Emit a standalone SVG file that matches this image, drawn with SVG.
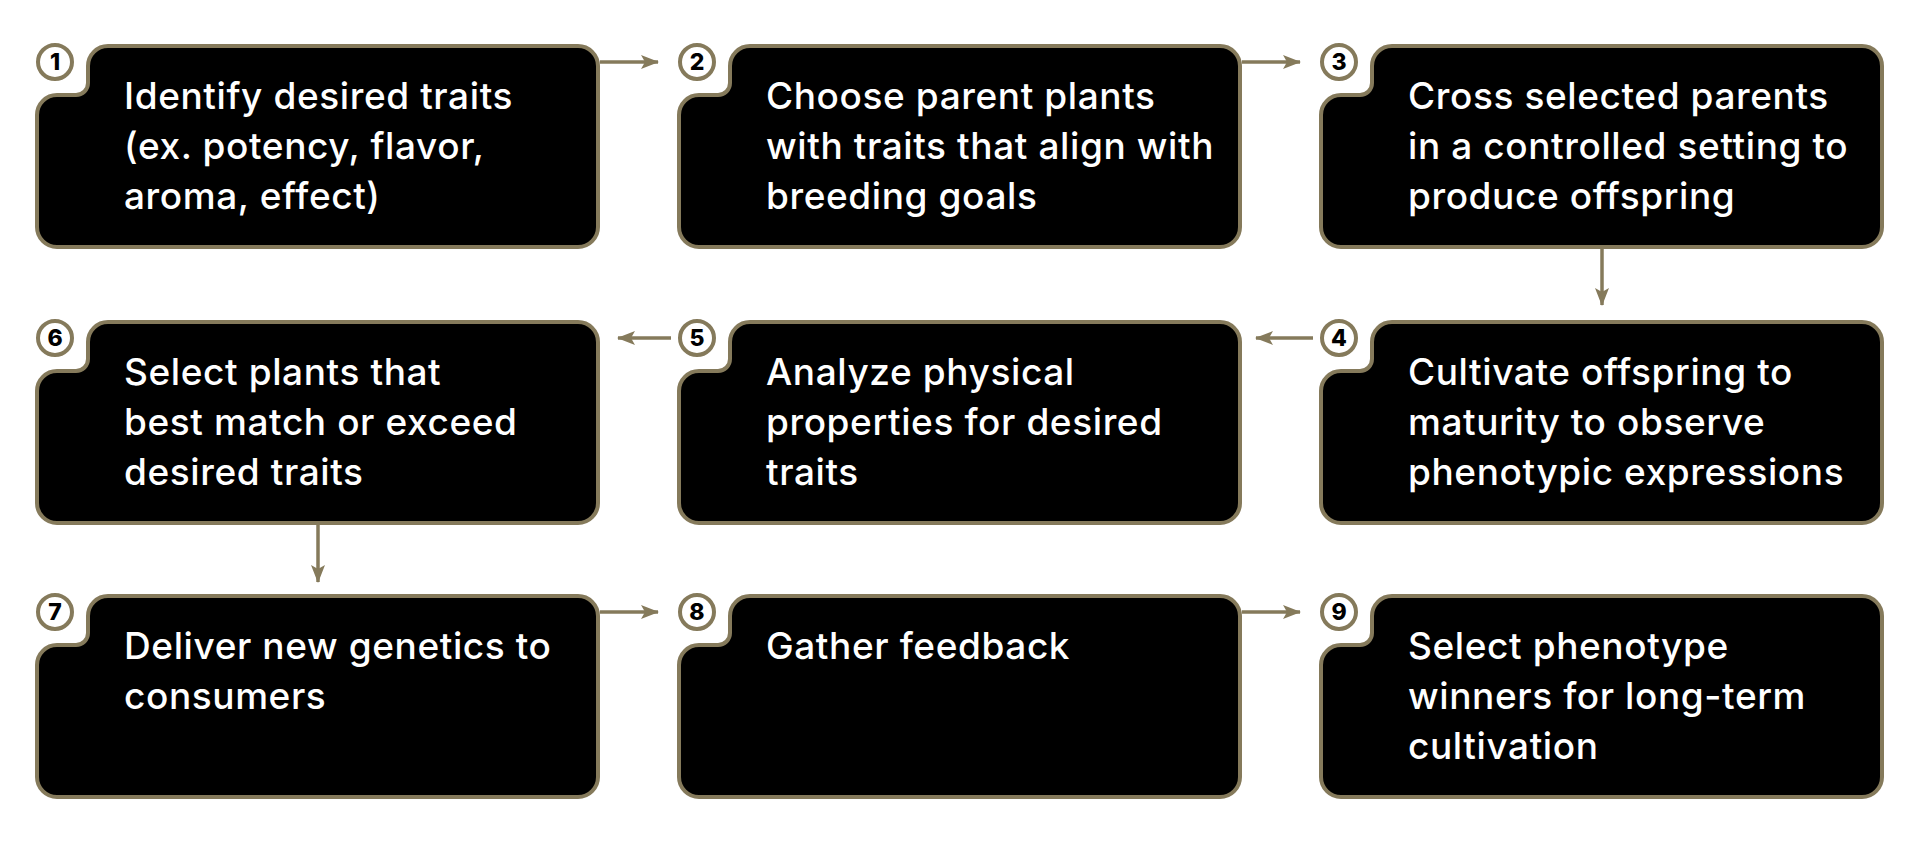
<svg xmlns="http://www.w3.org/2000/svg" xmlns:xlink="http://www.w3.org/1999/xlink" width="1920" height="841" viewBox="0 0 1920 841">
<style>
.box{fill:#000;stroke:#857a5b;stroke-width:4}
.num-c{fill:#fff;stroke:#857a5b;stroke-width:4}
.num{font-family:Inter,"Noto Sans","Liberation Sans",sans-serif;font-weight:800;font-size:23px;fill:#000;text-anchor:middle}
.lbl{font-family:Inter,"Noto Sans","Liberation Sans",sans-serif;font-weight:500;font-size:37px;letter-spacing:0.6px;fill:#fff}
.conn{fill:none;stroke:#857a5b;stroke-width:3.5}
</style>
<defs>
<path id="boxshape" d="M75,2 H543 A20,20 0 0 1 563,22 V183 A20,20 0 0 1 543,203 H22 A20,20 0 0 1 2,183 V71 A20,20 0 0 1 22,51 H41 A12,12 0 0 0 53,39 V22 A20,20 0 0 1 73,2 Z"/>
<marker id="arr" markerUnits="userSpaceOnUse" markerWidth="18" markerHeight="14" refX="17" refY="7" orient="auto">
<path d="M0,0 L18,7 L0,14 L4,7 Z" fill="#857a5b"/>
</marker>
</defs>
<rect width="1920" height="841" fill="#fff"/>
<g id="connectors">
<path class="conn" marker-end="url(#arr)" d="M600,62 H658"/>
<path class="conn" marker-end="url(#arr)" d="M1242,62 H1300"/>
<path class="conn" marker-end="url(#arr)" d="M1602,249 V305"/>
<path class="conn" marker-end="url(#arr)" d="M1313,338 H1256"/>
<path class="conn" marker-end="url(#arr)" d="M671,338 H618"/>
<path class="conn" marker-end="url(#arr)" d="M318,525 V582"/>
<path class="conn" marker-end="url(#arr)" d="M600,612 H658"/>
<path class="conn" marker-end="url(#arr)" d="M1242,612 H1300"/>
</g>
<g id="step1" transform="translate(35,44)">
<use href="#boxshape" class="box"/>
<circle class="num-c" cx="20" cy="18" r="17"/><text class="num" x="20" y="26">1</text>
<text class="lbl" x="89" y="65">Identify desired traits</text>
<text class="lbl" x="89" y="115">(ex. potency, flavor,</text>
<text class="lbl" x="89" y="165">aroma, effect)</text>
</g>
<g id="step2" transform="translate(677,44)">
<use href="#boxshape" class="box"/>
<circle class="num-c" cx="20" cy="18" r="17"/><text class="num" x="20" y="26">2</text>
<text class="lbl" x="89" y="65">Choose parent plants</text>
<text class="lbl" x="89" y="115">with traits that align with</text>
<text class="lbl" x="89" y="165">breeding goals</text>
</g>
<g id="step3" transform="translate(1319,44)">
<use href="#boxshape" class="box"/>
<circle class="num-c" cx="20" cy="18" r="17"/><text class="num" x="20" y="26">3</text>
<text class="lbl" x="89" y="65">Cross selected parents</text>
<text class="lbl" x="89" y="115">in a controlled setting to</text>
<text class="lbl" x="89" y="165">produce offspring</text>
</g>
<g id="step4" transform="translate(1319,320)">
<use href="#boxshape" class="box"/>
<circle class="num-c" cx="20" cy="18" r="17"/><text class="num" x="20" y="26">4</text>
<text class="lbl" x="89" y="65">Cultivate offspring to</text>
<text class="lbl" x="89" y="115">maturity to observe</text>
<text class="lbl" x="89" y="165">phenotypic expressions</text>
</g>
<g id="step5" transform="translate(677,320)">
<use href="#boxshape" class="box"/>
<circle class="num-c" cx="20" cy="18" r="17"/><text class="num" x="20" y="26">5</text>
<text class="lbl" x="89" y="65">Analyze physical</text>
<text class="lbl" x="89" y="115">properties for desired</text>
<text class="lbl" x="89" y="165">traits</text>
</g>
<g id="step6" transform="translate(35,320)">
<use href="#boxshape" class="box"/>
<circle class="num-c" cx="20" cy="18" r="17"/><text class="num" x="20" y="26">6</text>
<text class="lbl" x="89" y="65">Select plants that</text>
<text class="lbl" x="89" y="115">best match or exceed</text>
<text class="lbl" x="89" y="165">desired traits</text>
</g>
<g id="step7" transform="translate(35,594)">
<use href="#boxshape" class="box"/>
<circle class="num-c" cx="20" cy="18" r="17"/><text class="num" x="20" y="26">7</text>
<text class="lbl" x="89" y="65">Deliver new genetics to</text>
<text class="lbl" x="89" y="115">consumers</text>
</g>
<g id="step8" transform="translate(677,594)">
<use href="#boxshape" class="box"/>
<circle class="num-c" cx="20" cy="18" r="17"/><text class="num" x="20" y="26">8</text>
<text class="lbl" x="89" y="65">Gather feedback</text>
</g>
<g id="step9" transform="translate(1319,594)">
<use href="#boxshape" class="box"/>
<circle class="num-c" cx="20" cy="18" r="17"/><text class="num" x="20" y="26">9</text>
<text class="lbl" x="89" y="65">Select phenotype</text>
<text class="lbl" x="89" y="115">winners for long-term</text>
<text class="lbl" x="89" y="165">cultivation</text>
</g>
</svg>
